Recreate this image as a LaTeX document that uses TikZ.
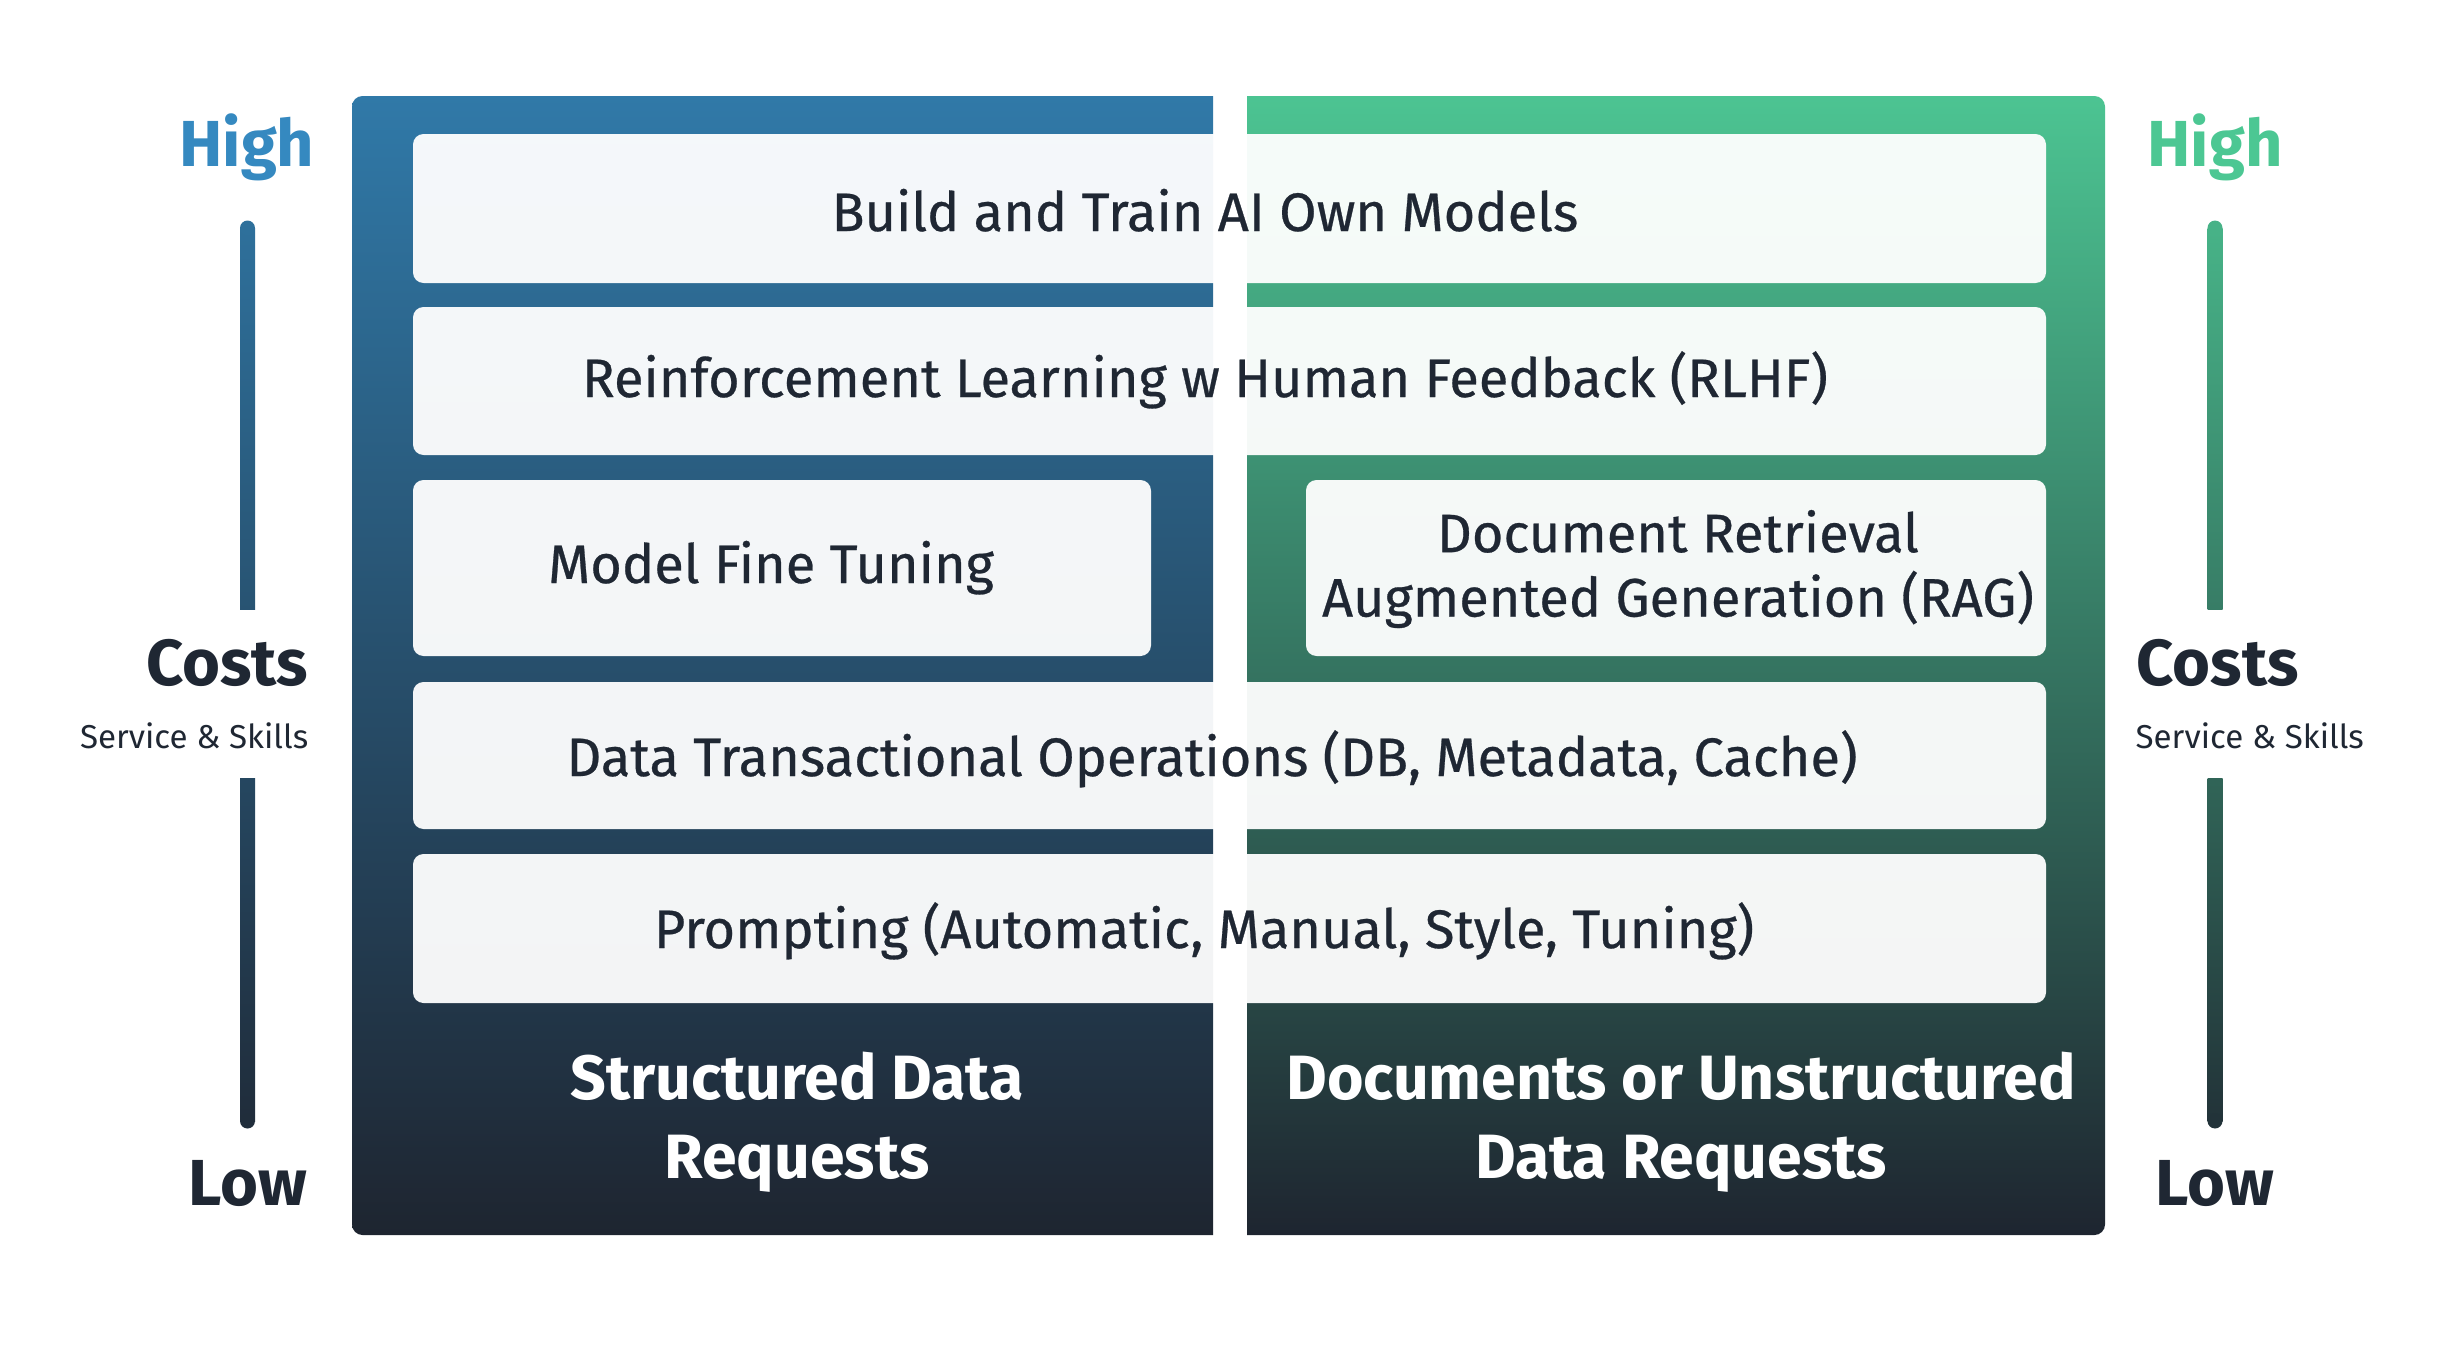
\documentclass[tikz,border=0pt]{standalone}
\usepackage{fontspec}
\setmainfont{Fira Sans}
\newfontfamily\medfont{Fira Sans}[FakeBold=0.5]
\definecolor{inkdark}{HTML}{1F2733}
\definecolor{bluetop}{HTML}{3079A8}
\definecolor{greentop}{HTML}{4CC492}
\definecolor{panelbot}{HTML}{1E2530}
\definecolor{highblue}{HTML}{3589C0}
\definecolor{highgreen}{HTML}{4CC793}
\begin{document}
\begin{tikzpicture}[x=0.01cm, y=-0.01cm,
    layer/.style={fill=white, fill opacity=0.95, rounded corners=3pt},
    layertext/.style={text=inkdark, font=\medfont\fontsize{15.4}{18.3}\selectfont, align=center},
    reqtext/.style={text=white, font=\bfseries\fontsize{17.8}{22.5}\selectfont, align=center},
    scaletext/.style={inner sep=0pt, font=\bfseries\fontsize{18.5}{22}\selectfont},
    skilltext/.style={inner sep=0pt, text=inkdark, font=\fontsize{9.4}{12}\selectfont}]
    \useasboundingbox (0,0) rectangle (2456,1366);
    \begin{scope}
        \clip (352,0) rectangle (1213,1366);
        \shade[top color=bluetop, bottom color=panelbot, rounded corners=3pt] (352,96) rectangle (1300,1235);
    \end{scope}
    \begin{scope}
        \clip (1247,0) rectangle (2105,1366);
        \shade[top color=greentop, bottom color=panelbot, rounded corners=3pt] (1160,96) rectangle (2105,1235);
    \end{scope}
    \fill[layer] (413,134) rectangle (2046,283);
    \fill[layer] (413,307) rectangle (2046,455);
    \fill[layer] (413,480) rectangle (1151,656);
    \fill[layer] (1306,480) rectangle (2046,656);
    \fill[layer] (413,682) rectangle (2046,829);
    \fill[layer] (413,854) rectangle (2046,1003);
    \node[layertext, anchor=base] (build) at (1205,231) {Build and Train AI Own Models};
    \node[layertext, anchor=base] (rlhf) at (1205,397) {Reinforcement Learning w Human Feedback (RLHF)};
    \node[layertext, anchor=base] (finetune) at (771,583) {Model Fine Tuning};
    \node[layertext] (rag) at (1678,569) {Document Retrieval\\Augmented Generation (RAG)};
    \node[layertext, anchor=base] (dataops) at (1212,776) {Data Transactional Operations (DB, Metadata, Cache)};
    \node[layertext, anchor=base] (prompting) at (1204,948) {Prompting (Automatic, Manual, Style, Tuning)};
    \node[reqtext] (structured) at (797,1122) {Structured Data\\Requests};
    \node[reqtext] (unstructured) at (1681,1122) {Documents or Unstructured\\Data Requests};
    \shade[top color=bluetop!89!panelbot, bottom color=bluetop!55!panelbot] (240,228) rectangle (255,609);
    \fill[bluetop!89!panelbot] (247.5,228) circle (2.13pt);
    \shade[top color=bluetop!40!panelbot, bottom color=bluetop!9!panelbot] (240,778) rectangle (255,1121);
    \fill[bluetop!9!panelbot] (247.5,1121) circle (2.13pt);
    \shade[top color=greentop!89!panelbot, bottom color=greentop!55!panelbot] (2207.5,228) rectangle (2222.5,609);
    \fill[greentop!89!panelbot] (2215,228) circle (2.13pt);
    \shade[top color=greentop!40!panelbot, bottom color=greentop!9!panelbot] (2207.5,778) rectangle (2222.5,1121);
    \fill[greentop!9!panelbot] (2215,1121) circle (2.13pt);
    \node[scaletext, text=highblue, anchor=base] (highL) at (247,166) {High};
    \node[scaletext, text=inkdark, anchor=base east] (costsL) at (309,685) {Costs};
    \node[skilltext, anchor=base east] (skillsL) at (309,748) {Service \& Skills};
    \node[scaletext, text=inkdark, anchor=base] (lowL) at (248,1205) {Low};
    \node[scaletext, text=highgreen, anchor=base] (highR) at (2215,166) {High};
    \node[scaletext, text=inkdark, anchor=base west] (costsR) at (2136,685) {Costs};
    \node[skilltext, anchor=base west] (skillsR) at (2135,748) {Service \& Skills};
    \node[scaletext, text=inkdark, anchor=base] (lowR) at (2215,1205) {Low};
\end{tikzpicture}
\end{document}
